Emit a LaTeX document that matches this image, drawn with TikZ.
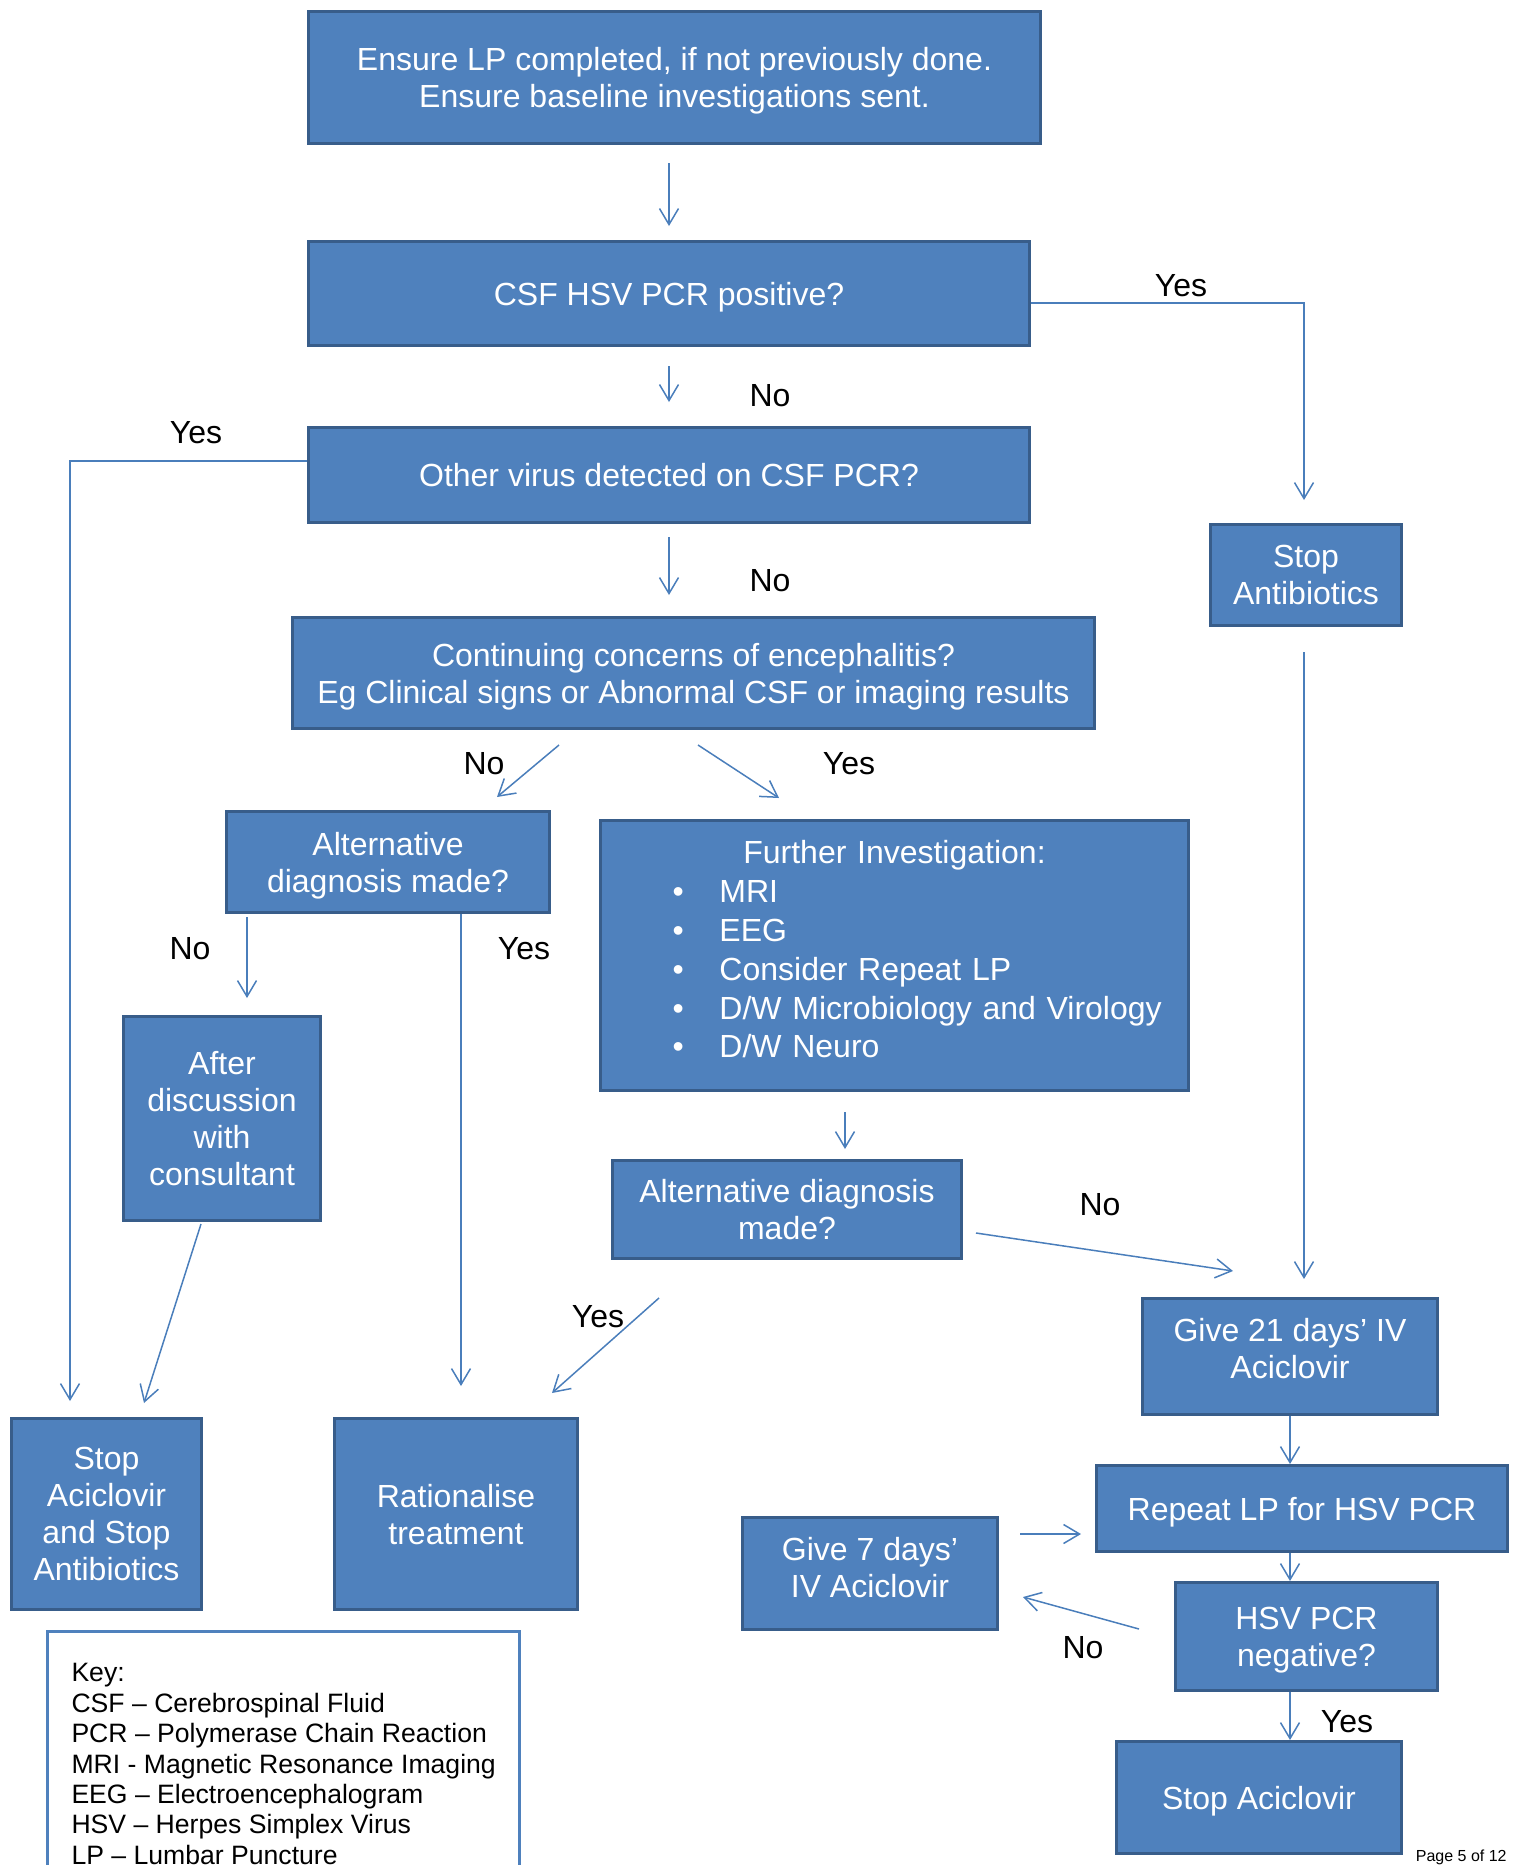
\documentclass[tikz,border=0pt]{standalone}
\usepackage{fontspec}
\setmainfont{Liberation Sans}
\usetikzlibrary{arrows.meta, positioning, calc}
\definecolor{boxfill}{HTML}{4F81BD}
\definecolor{boxedge}{HTML}{385D8A}
\definecolor{linkblue}{HTML}{4A7EBB}
\newcommand{\boxfont}{\fontsize{16}{18.6}\selectfont}
\newcommand{\keyfont}{\fontsize{13.3}{15.2}\selectfont}
\newcommand{\bulletitem}[1]{\hspace*{36pt}\makebox[23.5pt][l]{\textbullet}#1}
\tikzset{
    flowchart/.style={>={Straight Barb[length=8pt, width=9.5pt]}, x=0.5pt, y=-0.5pt},
    block/.style={draw=boxedge, fill=boxfill, line width=1.5pt, text=white, align=center, inner sep=0pt, text depth=0pt, font=\boxfont},
    link/.style={->, draw=linkblue, line width=0.75pt},
    answer/.style={font=\boxfont, inner sep=0pt, text depth=0pt},
    keybox/.style={draw=boxfill, line width=1.5pt, align=left, anchor=north west, inner xsep=12pt, inner ysep=16pt, font=\keyfont},
}

\begin{document}
\begin{tikzpicture}[flowchart]
    \useasboundingbox (0,0) rectangle (1522,1865);

    % boxes
    \node[block, minimum width=366pt, minimum height=66pt]   (ensure)   at (674.5,77.5)  {Ensure LP completed, if not previously done.\\Ensure baseline investigations sent.};
    \node[block, minimum width=360.5pt, minimum height=52pt] (hsv)      at (669,293.5)   {CSF HSV PCR positive?};
    \node[block, minimum width=360.5pt, minimum height=47.5pt] (other)  at (669,475)     {Other virus detected on CSF PCR?};
    \node[block, minimum width=95.5pt, minimum height=50.5pt] (stopab)  at (1306,575)    {Stop\\Antibiotics};
    \node[block, minimum width=401pt, minimum height=55.5pt] (concern)  at (693.5,673)   {Continuing concerns of encephalitis?\\Eg Clinical signs or Abnormal CSF or imaging results};
    \node[block, minimum width=161.5pt, minimum height=50.5pt] (alt1)   at (388,862)     {Alternative\\diagnosis made?};
    \node[block, text width=294pt, minimum height=135pt, align=left, text depth={}, font=\fontsize{16}{19.4}\selectfont] (further) at (894.5,955.5)
        {{\centering Further Investigation:\par}
         \bulletitem{MRI}\\
         \bulletitem{EEG}\\
         \bulletitem{Consider Repeat LP}\\
         \bulletitem{D/W Microbiology and Virology}\\
         \bulletitem{D/W Neuro}\par\vspace*{6pt}};
    \node[block, minimum width=98.5pt, minimum height=102pt] (consult)   at (222,1118.5)  {After\\discussion\\with\\consultant};
    \node[block, minimum width=174.5pt, minimum height=49pt] (alt2)      at (787,1209.5)  {Alternative diagnosis\\made?};
    \node[block, minimum width=95pt, minimum height=95.5pt] (stopboth)   at (106.5,1514)  {Stop\\Aciclovir\\and Stop\\Antibiotics};
    \node[block, minimum width=121.5pt, minimum height=95.5pt] (ration)  at (456,1514)    {Rationalise\\treatment};
    \node[block, minimum width=147.5pt, minimum height=58pt, text depth=8.4pt] (give21) at (1290,1356.5) {Give 21 days’ IV\\Aciclovir};
    \node[block, minimum width=205.5pt, minimum height=43pt] (repeat)    at (1302,1508.5) {Repeat LP for HSV PCR};
    \node[block, minimum width=127.5pt, minimum height=56pt, text depth=6pt] (give7) at (870,1573.5) {Give 7 days’\\IV Aciclovir};
    \node[block, minimum width=131pt, minimum height=54pt] (neg)         at (1306.5,1636.5) {HSV PCR\\negative?};
    \node[block, minimum width=142.5pt, minimum height=56pt] (stopacv)   at (1259,1797.5) {Stop Aciclovir};

    % answers
    \node[answer] (yesA) at (1181,285)  {Yes};
    \node[answer] (noA)  at (770,395)   {No};
    \node[answer] (yesB) at (196,432)   {Yes};
    \node[answer] (noB)  at (770,580)   {No};
    \node[answer] (noC)  at (484,763)   {No};
    \node[answer] (yesC) at (849,763)   {Yes};
    \node[answer] (noD)  at (190,948)   {No};
    \node[answer] (yesD) at (524,948)   {Yes};
    \node[answer] (noE)  at (1100,1204) {No};
    \node[answer] (yesE) at (598,1316)  {Yes};
    \node[answer] (noF)  at (1083,1647) {No};
    \node[answer] (yesF) at (1347,1721) {Yes};

    % main column
    \draw[link] ($(ensure.south -| hsv.north)+(0,18)$) -- ($(hsv.north)+(0,-14)$);
    \draw[link] ($(hsv.south)+(0,19)$) -- ($(other.north)+(0,-24)$);
    \draw[link] ($(other.south)+(0,13)$) -- ($(other.south |- concern.north)+(0,-21)$);
    \draw[link] ($(hsv.east)+(0,9.5)$) -| ($(stopab.north)+(-2,-23)$);
    \draw[link] ($(other.west)+(0,-14)$) -| ($(stopboth.north)+(-36.5,-16)$);
    \draw[link] ($(stopab.south)+(-2,25)$) -- ($(stopab.south |- give21.north)+(-2,-18)$);

    % concerns branch
    \draw[link] ($(concern.south)+(-134.5,15)$) -- ($(alt1.north)+(109,-13)$);
    \draw[link] ($(concern.south)+(4.5,15)$) -- ($(further.north)+(-115.5,-21)$);
    \draw[link] ($(alt1.south)+(-141,3)$) -- ($(consult.north)+(25,-17)$);
    \draw[link] ($(alt1.south)+(73,0)$) -- ($(ration.north)+(5,-31)$);
    \draw[link] ($(consult.south)+(-21,2)$) -- ($(stopboth.north)+(37.5,-14)$);
    \draw[link] ($(further.south)+(-49.5,20)$) -- ($(alt2.north)+(58,-10)$);
    \draw[link] ($(alt2.east)+(13,23.5)$) -- ($(give21.north)+(-57,-26)$);
    \draw[link] ($(alt2.south)+(-128,38)$) -- ($(ration.north)+(96,-24)$);

    % aciclovir loop
    \draw[link] (give21.south) -- (give21.south |- repeat.north);
    \draw[link] ($(give7.east)+(21,-39.5)$) -- ($(repeat.west)+(-14,25.5)$);
    \draw[link] ($(repeat.south)+(-12,0)$) -- ($(neg.north)+(-16.5,0)$);
    \draw[link] ($(neg.west)+(-35,-7.5)$) -- ($(give7.east)+(24,23.5)$);
    \draw[link] ($(neg.south)+(-16.5,0)$) -- ($(stopacv.north)+(31,0)$);

    % key
    \node[keybox] (key) at (46,1630) {Key:\\CSF – Cerebrospinal Fluid\\PCR – Polymerase Chain Reaction\\MRI - Magnetic Resonance Imaging\\EEG – Electroencephalogram\\HSV – Herpes Simplex Virus\\LP – Lumbar Puncture};
    \node[anchor=base east, inner sep=0pt, font=\fontsize{8}{9.6}\selectfont] (pageno) at (1507,1861) {Page 5 of 12};
\end{tikzpicture}
\end{document}
